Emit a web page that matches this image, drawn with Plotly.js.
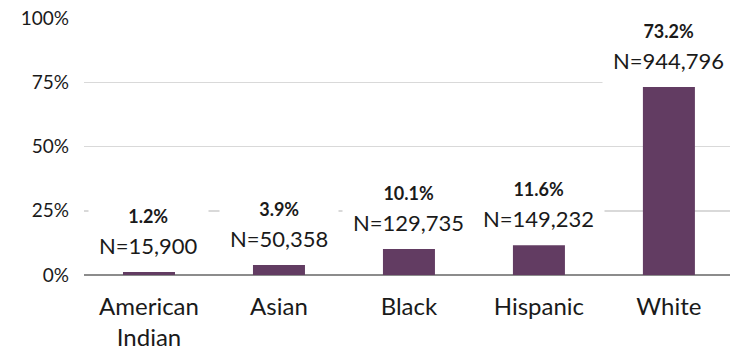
<!DOCTYPE html>
<html>
<head>
<meta charset="utf-8">
<script src="https://cdn.plot.ly/plotly-3.0.1.min.js"></script>
<style>html,body{margin:0;padding:0;background:#fff;}#chart{width:730px;height:354px;}</style>
</head>
<body>
<div id="chart"></div>
<script>
const categories = ["American<br>Indian", "Asian", "Black", "Hispanic", "White"];
const percents = [1.2, 3.9, 10.1, 11.6, 73.2];
const counts = [15900, 50358, 129735, 149232, 944796];
const yTickVals = [0, 25, 50, 75, 100];
const yTickText = ["0%", "25%", "50%", "75%", "100%"];

const FONT = "Lato, 'Open Sans', sans-serif";
const barColor = "#623c62";

const annotations = categories.map((c, i) => ({
  x: c,
  y: percents[i],
  xref: "x",
  yref: "y",
  yanchor: "bottom",
  showarrow: false,
  yshift: 2,
  text: "<span style=\"font-size:18px\"><b>" + percents[i].toFixed(1) + "%</b></span><br><span style=\"font-size:22px\">N=" + counts[i].toLocaleString("en-US") + "</span>",
  font: {family: FONT, size: 24, color: "#1a1a1a"},
  bgcolor: "#ffffff",
  borderpad: 10,
  align: "center"
}));

const data = [{
  type: "bar",
  x: categories,
  y: percents,
  marker: {color: barColor},
  width: 0.4,
  hoverinfo: "skip"
}];

const layout = {
  width: 730,
  height: 354,
  margin: {l: 84, r: 0, t: 18, b: 79},
  paper_bgcolor: "#ffffff",
  plot_bgcolor: "#ffffff",
  font: {family: FONT, size: 18, color: "#1a1a1a"},
  showlegend: false,
  xaxis: {
    type: "category",
    range: [-0.5, 4.47],
    showgrid: false,
    showline: false,
    zeroline: false,
    ticks: "",
    ticklabelstandoff: 15,
    tickfont: {family: FONT, size: 24, color: "#1a1a1a"}
  },
  yaxis: {
    range: [0, 100],
    tickvals: yTickVals,
    ticktext: yTickText,
    showgrid: true,
    gridcolor: "#d9d9d9",
    gridwidth: 1.5,
    zeroline: true,
    zerolinecolor: "#8c8c8c",
    zerolinewidth: 2,
    ticks: "",
    ticklabelstandoff: 14,
    tickfont: {family: FONT, size: 19, color: "#1a1a1a"}
  },
  annotations: annotations
};

Plotly.newPlot("chart", data, layout, {displayModeBar: false, staticPlot: true});
</script>
</body>
</html>
